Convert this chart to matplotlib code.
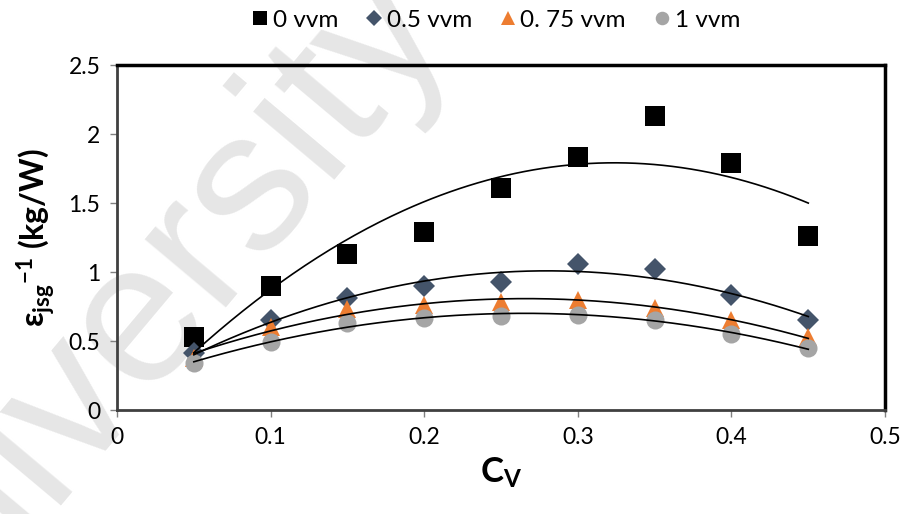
import numpy as np
import matplotlib
matplotlib.use('Agg')
import matplotlib.pyplot as plt

plt.rcParams['font.family'] = ['Lato', 'DejaVu Sans']
plt.rcParams['mathtext.fontset'] = 'custom'
plt.rcParams['mathtext.rm'] = 'Lato'
plt.rcParams['mathtext.bf'] = 'Lato:bold'
plt.rcParams['mathtext.it'] = 'Lato:italic'

# data
cv = [0.05, 0.10, 0.15, 0.20, 0.25, 0.30, 0.35, 0.40, 0.45]
vvm_0 = [0.53, 0.90, 1.13, 1.29, 1.61, 1.83, 2.13, 1.79, 1.26]
vvm_05 = [0.41, 0.65, 0.81, 0.90, 0.93, 1.06, 1.02, 0.83, 0.65]
vvm_075 = [0.38, 0.60, 0.73, 0.76, 0.78, 0.80, 0.74, 0.65, 0.53]
vvm_1 = [0.34, 0.49, 0.63, 0.67, 0.68, 0.69, 0.65, 0.55, 0.45]

labels = ['0 vvm', '0.5 vvm', '0. 75 vvm', '1 vvm']

fig = plt.figure(figsize=(9.05, 5.14), dpi=100)
ax = fig.add_axes([0.1293, 0.2023, 0.8487, 0.6712])
ax.set_zorder(1)

# watermark behind everything
fig.text(-0.125, -0.385, 'University of Malaya', fontsize=145, color='#e6e6e6',
         family='Liberation Sans', rotation=50, rotation_mode='anchor',
         ha='left', va='baseline', zorder=-1)

series = [
    (vvm_0, 's', 'black', 14),
    (vvm_05, 'D', '#44546A', 11),
    (vvm_075, '^', '#ED7D31', 13),
    (vvm_1, 'o', '#A5A5A5', 13),
]

x = np.array(cv)
xs = np.linspace(x.min(), x.max(), 200)
for (vals, mk, col, ms), lab in zip(series, labels):
    ax.plot(cv, vals, linestyle='none', marker=mk, color=col, markersize=ms,
            markeredgewidth=0, label=lab, zorder=3)
# 2nd order polynomial trendlines
for (vals, mk, col, ms) in series:
    coef = np.polyfit(x, np.array(vals), 2)
    ax.plot(xs, np.polyval(coef, xs), color='black', lw=1.2, zorder=4)

ax.set_xlim(0, 0.5)
ax.set_ylim(0, 2.5)
ax.set_xticks([0, 0.1, 0.2, 0.3, 0.4, 0.5])
ax.set_xticklabels(['0', '0.1', '0.2', '0.3', '0.4', '0.5'])
ax.set_yticks([0, 0.5, 1, 1.5, 2, 2.5])
ax.set_yticklabels(['0', '0.5', '1', '1.5', '2', '2.5'])
ax.tick_params(labelsize=16.5, length=5, width=1, color='#808080', pad=7)

for s in ['left', 'bottom']:
    ax.spines[s].set_linewidth(2)
    ax.spines[s].set_color('#404040')
for s in ['top', 'right']:
    ax.spines[s].set_linewidth(2.5)
    ax.spines[s].set_color('black')
ax.patch.set_alpha(0)

ax.set_xlabel(r'$\mathbf{C_V}$', fontsize=25, labelpad=6)
ax.set_ylabel(r'$\mathbf{ε_{jsg}{}^{-1}}$ (kg/W)', fontsize=23,
              fontweight='bold', labelpad=8)

fig.legend(loc='center', bbox_to_anchor=(0.546, 0.961), ncol=4, frameon=False,
           fontsize=17.5, handletextpad=0.0, columnspacing=1.0,
           handlelength=1.0, markerscale=0.75)

fig.savefig('out.png', dpi=100)
